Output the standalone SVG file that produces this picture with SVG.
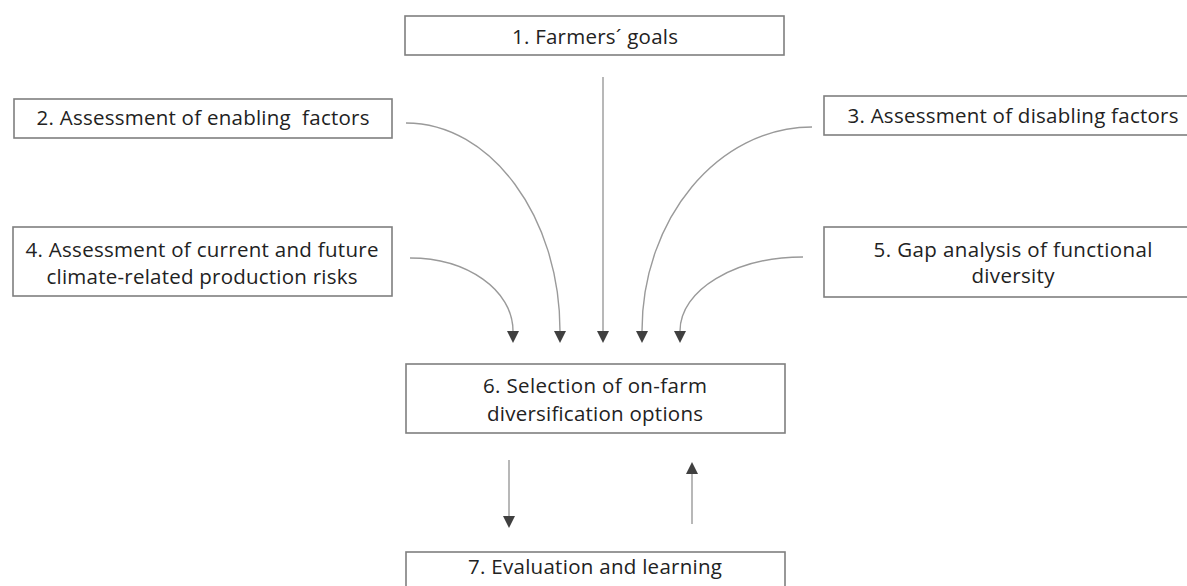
<svg xmlns="http://www.w3.org/2000/svg" width="1187" height="586" viewBox="0 0 1187 586">
<style>
.box{fill:#fff;stroke:#7f7f7f;stroke-width:1.6}
.lbl{font-family:"Open Sans","Liberation Sans",sans-serif;font-size:20.5px;fill:#222;text-anchor:middle}
.conn{fill:none;stroke:#9a9a9a;stroke-width:1.4}
</style>
<defs>
<marker id="ah" markerUnits="userSpaceOnUse" markerWidth="12" markerHeight="12" refX="0" refY="6" orient="auto" viewBox="0 0 12 12">
<path d="M0,0 L12,6 L0,12 z" fill="#404040"/>
</marker>
</defs>
<rect width="1187" height="586" fill="#fff"/>
<g id="connectors">
<path class="conn" d="M603,77 L603,331" marker-end="url(#ah)"/>
<path class="conn" d="M406,123 C491,123 560,217 560,331" marker-end="url(#ah)"/>
<path class="conn" d="M410,258 C467,258 513,290 513,331" marker-end="url(#ah)"/>
<path class="conn" d="M812,127 C718,127 642,219 642,331" marker-end="url(#ah)"/>
<path class="conn" d="M803,257 C735,257 680,290 680,331" marker-end="url(#ah)"/>
<path class="conn" d="M509,460 L509,516" marker-end="url(#ah)"/>
<path class="conn" d="M692,524 L692,474" marker-end="url(#ah)"/>
</g>
<g id="node1">
<rect class="box" x="405" y="16" width="379" height="39"/>
<text class="lbl" x="595" y="44" textLength="166">1. Farmers´ goals</text>
</g>
<g id="node2">
<rect class="box" x="14" y="99" width="378" height="39"/>
<text class="lbl" x="203" y="125" textLength="333" xml:space="preserve">2. Assessment of enabling  factors</text>
</g>
<g id="node3">
<rect class="box" x="824" y="96" width="380" height="39"/>
<text class="lbl" x="1013" y="123" textLength="331">3. Assessment of disabling factors</text>
</g>
<g id="node4">
<rect class="box" x="13" y="227" width="379" height="69"/>
<text class="lbl" x="202" y="257" textLength="353">4. Assessment of current and future</text>
<text class="lbl" x="202" y="284" textLength="311">climate-related production risks</text>
</g>
<g id="node5">
<rect class="box" x="824" y="227" width="380" height="70"/>
<text class="lbl" x="1013" y="257" textLength="279">5. Gap analysis of functional</text>
<text class="lbl" x="1013" y="283" textLength="83">diversity</text>
</g>
<g id="node6">
<rect class="box" x="406" y="364" width="379" height="69"/>
<text class="lbl" x="595" y="393" textLength="224">6. Selection of on-farm</text>
<text class="lbl" x="595" y="421" textLength="216">diversification options</text>
</g>
<g id="node7">
<rect class="box" x="406" y="552" width="379" height="50"/>
<text class="lbl" x="595" y="574" textLength="254">7. Evaluation and learning</text>
</g>
</svg>
